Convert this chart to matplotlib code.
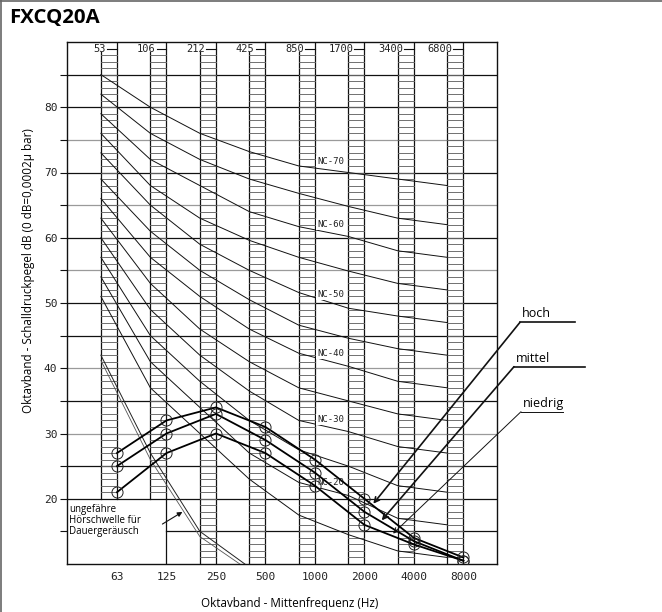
import matplotlib
matplotlib.use("Agg")
import matplotlib.pyplot as plt
import numpy as np
from matplotlib.lines import Line2D

# ---------------- data ----------------
bands = ["63", "125", "250", "500", "1000", "2000", "4000", "8000"]
band_edges = ["53", "106", "212", "425", "850", "1700", "3400", "6800"]

nc_names = ["NC-70", "NC-65", "NC-60", "NC-55", "NC-50", "NC-45",
            "NC-40", "NC-35", "NC-30", "NC-25", "NC-20", "NC-15"]
nc70 = [85, 80, 76, 73.2, 71, 70, 69, 68]
nc65 = [82, 76, 72, 69, 66.8, 64.8, 63, 62]
nc60 = [79, 72, 68, 64, 61.7, 60.2, 58, 57]
nc55 = [76, 68, 63, 59.6, 57, 54.9, 53, 52]
nc50 = [73, 65, 59, 55, 51.6, 49.2, 48, 47]
nc45 = [69, 61, 55, 50.5, 46.6, 44.6, 43, 42]
nc40 = [66, 57, 51, 46, 42.3, 40.3, 38, 37]
nc35 = [63, 53, 46, 41, 37, 35, 33, 32]
nc30 = [60, 49, 42, 36.5, 32, 30.3, 28, 27]
nc25 = [57, 45, 38, 32, 27.5, 25, 22, 21]
nc20 = [54, 41, 34, 27, 22.5, 20.5, 17, 16]
nc15 = [51, 37, 30, 23, 17.5, 14.5, 12, 11]
nc_curves = [nc70, nc65, nc60, nc55, nc50, nc45, nc40, nc35, nc30, nc25, nc20, nc15]
nc_labelled = ["NC-70", "NC-60", "NC-50", "NC-40", "NC-30", "NC-20"]

threshold_a = [42, 27, 15, 9.5]
threshold_b = [41.2, 26, 14.2, 9.0]

hoch = [27, 32, 34, 31, 26, 20, 14, 11]
mittel = [25, 30, 33, 29, 24, 18, 13.5, 10.5]
niedrig = [21, 27, 30, 27, 22, 16, 13, 10.5]
series = [("hoch", hoch), ("mittel", mittel), ("niedrig", niedrig)]

# ---------------- figure ----------------
W, H = 662, 612
fig = plt.figure(figsize=(W / 100, H / 100), dpi=100)
ax = fig.add_axes([67 / W, 1 - 564 / H, 430 / W, 522 / H])
XMIN, XMAX, YMIN, YMAX = -1.01, 7.68, 10, 90
ax.set_xlim(XMIN, XMAX)
ax.set_ylim(YMIN, YMAX)

sans = ["Open Sans", "DejaVu Sans"]
tech = ["DejaVu Sans Mono"]

LW = 0.325  # ladder width in band units
idx = np.arange(len(bands))
nc_x = idx - LW

# horizontal grid
for v in range(15, 90, 5):
    col = "#9a9a9a" if v in (30, 40, 55, 65, 75) else "#111111"
    x0 = 1 if v == 15 else XMIN
    ax.plot([x0, XMAX], [v, v], color=col, lw=0.9, zorder=1)
# box for threshold note
ax.plot([1, 1], [YMIN, 20], color="#111111", lw=0.9, zorder=1)

# ladders
for i in idx:
    ybot = 20 if i < 2 else YMIN
    left, right = i - LW, i
    ax.plot([left, left], [ybot, 88.4], color="#111111", lw=0.9, zorder=2)
    ax.plot([right, right], [ybot, YMAX], color="#111111", lw=0.9, zorder=2)
    for r in range(int(ybot) + 1, 89):
        ax.plot([left, right], [r, r], color="#666666", lw=0.65, zorder=2)
    ax.plot([i - 0.2, right], [88.95, 88.95], color="#111111", lw=0.8, zorder=2)
    ax.text(i - 0.22, 88.95, band_edges[i], ha="right", va="center",
            fontsize=7.5, family=tech, color="#222222", zorder=3)

# NC curves
for name, vals in zip(nc_names, nc_curves):
    ax.plot(nc_x, vals, color="#111111", lw=0.7, zorder=3, clip_on=True)
    if name in nc_labelled:
        lx = 4.32
        ly = np.interp(lx, nc_x, vals)
        ax.text(lx, ly + 1.3, name, ha="center", va="center", fontsize=6.5,
                family=tech, color="#222222", zorder=4,
                bbox=dict(boxstyle="square,pad=0.1", fc="white", ec="none"))

# threshold double line
ax.plot(nc_x[:len(threshold_a)], threshold_a, color="#222222", lw=0.7, zorder=3)
ax.plot(nc_x[:len(threshold_b)], threshold_b, color="#555555", lw=0.6, zorder=3)

# threshold note
ax.text(-0.97, 19.2, "ungefähre\nHörschwelle für\nDauergeräusch", ha="left", va="top",
        fontsize=7, family=sans, linespacing=1.0, zorder=5)
ax.annotate("", xy=(1.37, 18.2), xytext=(0.87, 15.9),
            arrowprops=dict(arrowstyle="-|>", color="#111111", lw=0.8,
                            mutation_scale=7), zorder=5)

# measured series
for name, vals in series:
    ax.plot(idx, vals, color="#000000", lw=1.3, zorder=6,
            marker="o", markersize=8, markerfacecolor="none",
            markeredgecolor="#222222", markeredgewidth=0.7)

# axes styling
for s in ax.spines.values():
    s.set_color("#111111")
    s.set_linewidth(1.0)
ax.set_xticks(idx)
ax.set_xticklabels(bands, family=tech, fontsize=8, color="#222222")
ax.tick_params(axis="x", length=0, pad=6)
ax.set_yticks(range(20, 81, 10))
ax.set_yticklabels([str(v) for v in range(20, 81, 10)], family=tech, fontsize=8,
                   color="#222222")
ax.set_yticks(range(15, 90, 10), minor=True)
ax.tick_params(axis="y", which="both", direction="out", length=5, width=0.8,
               color="#111111", pad=2)

fig.text(29 / W, 1 - 271 / H, "Oktavband - Schalldruckpegel dB (0 dB=0,0002μ bar)",
         rotation=90, ha="center", va="center", fontsize=8.4, family=sans)
fig.text(290 / W, 1 - 603 / H, "Oktavband - Mittenfrequenz (Hz)", ha="center",
         va="center", fontsize=8.4, family=sans)
fig.text(9 / W, 1 - 18 / H, "FXCQ20A", ha="left", va="center", fontsize=14.7,
         fontweight="bold", family=sans)

# legend-like leaders
leaders = [("hoch", (5.18, 19.24), (520, 322.3), 1.2),
           ("mittel", (5.35, 16.69), (514, 366.7), 1.2),
           ("niedrig", (5.58, 14.66), (521, 411.7), 0.7)]
ul_right = {"hoch": 575, "mittel": 585, "niedrig": 563}
for name, tip, (tx, ty), lw in leaders:
    ax.annotate("", xy=tip, xycoords="data", xytext=(tx, H - ty),
                textcoords="figure pixels", annotation_clip=False,
                arrowprops=dict(arrowstyle="->", color="#111111", lw=lw,
                                shrinkA=0, shrinkB=0, mutation_scale=9), zorder=7)
    fig.add_artist(Line2D([tx / W, ul_right[name] / W], [1 - ty / H, 1 - ty / H],
                          color="#111111", lw=lw))
    fig.text((tx + 2) / W, 1 - (ty - 2) / H, name, ha="left", va="bottom",
             fontsize=9, family=sans)

# figure frame (top and left)
fig.add_artist(Line2D([0, 1], [1 - 0.5 / H, 1 - 0.5 / H], color="#666666", lw=1.2))
fig.add_artist(Line2D([0.6 / W, 0.6 / W], [0, 1], color="#666666", lw=1.2))

fig.savefig("out.png", dpi=100)
